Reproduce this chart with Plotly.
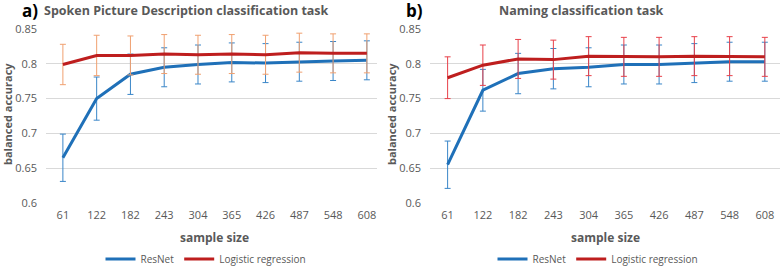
import plotly.graph_objects as go

sample_sizes = ["61", "122", "182", "243", "304", "365", "426", "487", "548", "608"]

# Panel a) Spoken Picture Description
a_resnet = [0.665, 0.750, 0.785, 0.795, 0.799, 0.802, 0.801, 0.803, 0.804, 0.805]
a_resnet_err = [0.034, 0.031, 0.029, 0.028, 0.028, 0.028, 0.028, 0.028, 0.028, 0.028]
a_logreg = [0.799, 0.812, 0.812, 0.814, 0.813, 0.814, 0.813, 0.816, 0.815, 0.815]
a_logreg_err = [0.029, 0.029, 0.028, 0.028, 0.028, 0.028, 0.028, 0.028, 0.028, 0.028]

# Panel b) Naming
b_resnet = [0.655, 0.762, 0.786, 0.793, 0.795, 0.799, 0.799, 0.801, 0.803, 0.803]
b_resnet_err = [0.034, 0.030, 0.029, 0.029, 0.028, 0.028, 0.028, 0.028, 0.028, 0.028]
b_logreg = [0.780, 0.798, 0.807, 0.806, 0.811, 0.810, 0.810, 0.811, 0.811, 0.810]
b_logreg_err = [0.030, 0.029, 0.028, 0.028, 0.028, 0.028, 0.028, 0.028, 0.028, 0.028]

BLUE = "#1F70B8"
RED = "#BE1E1E"
GRAY = "#595959"
FONT = "Open Sans"

fig = go.Figure()

def add(xa, ya, y, err, name, color, ecolor, legend):
    fig.add_trace(go.Scatter(
        x=sample_sizes, y=y, mode="lines", name=name,
        line=dict(color=color, width=3),
        error_y=dict(type="data", array=err, visible=True, color=ecolor,
                     thickness=1, width=3),
        xaxis=xa, yaxis=ya, legend=legend,
    ))

add("x", "y", a_resnet, a_resnet_err, "ResNet", BLUE, "#3A86C8", "legend")
add("x", "y", a_logreg, a_logreg_err, "Logistic regression", RED, "#F0A070", "legend")
add("x2", "y2", b_resnet, b_resnet_err, "ResNet", BLUE, "#3A86C8", "legend2")
add("x2", "y2", b_logreg, b_logreg_err, "Logistic regression", RED, "#E8404A", "legend2")

ydom = [1 - 203 / 267, 1 - 29 / 267]
yax = dict(range=[0.6, 0.85], tickvals=[0.6, 0.65, 0.7, 0.75, 0.8, 0.85],
           ticktext=["0.6", "0.65", "0.7", "0.75", "0.8", "0.85"],
           showgrid=True, gridcolor="#D9D9D9", gridwidth=1, zeroline=False,
           showline=False, ticks="", ticklabelstandoff=8, automargin=False,
           tickfont=dict(family=FONT, size=11, color=GRAY), domain=ydom)
xax = dict(type="category", showgrid=False, zeroline=False, showline=False, ticks="",
           automargin=False,
           tickfont=dict(family=FONT, size=11, color=GRAY), ticklabelstandoff=4)

fig.update_layout(
    width=781, height=267,
    margin=dict(l=0, r=0, t=0, b=0, autoexpand=False),
    paper_bgcolor="white", plot_bgcolor="white",
    font=dict(family=FONT, color=GRAY),
    xaxis=dict(xax, domain=[46 / 781, 377 / 781], range=[-0.5, 9.3], anchor="y"),
    yaxis=dict(yax, anchor="x"),
    xaxis2=dict(xax, domain=[430 / 781, 780 / 781], range=[-0.5, 9.43], anchor="y2"),
    yaxis2=dict(yax, anchor="x2"),
    legend=dict(orientation="h", x=206 / 781, y=1 - 259 / 267, xanchor="center", yanchor="middle",
                font=dict(family=FONT, size=10, color=GRAY), itemwidth=30, bgcolor="rgba(0,0,0,0)"),
    legend2=dict(orientation="h", x=598 / 781, y=1 - 259 / 267, xanchor="center", yanchor="middle",
                 font=dict(family=FONT, size=10, color=GRAY), itemwidth=30, bgcolor="rgba(0,0,0,0)"),
    showlegend=True,
)

ann = [
    dict(text="<b>a)</b>", x=20 / 781, y=1 - 11 / 267, font=dict(size=17, color="#000000")),
    dict(text="<b>Spoken Picture Description classification task</b>", x=42 / 781, y=1 - 11 / 267,
         font=dict(size=12.5, color=GRAY)),
    dict(text="<b>b)</b>", x=404 / 781, y=1 - 11 / 267, font=dict(size=17, color="#000000")),
    dict(text="<b>Naming classification task</b>", x=497 / 781, y=1 - 11 / 267,
         font=dict(size=12.5, color=GRAY)),
]
for a in ann:
    fig.add_annotation(xref="paper", yref="paper", xanchor="left", yanchor="middle",
                       showarrow=False, **a)

for xc in [215, 605]:
    fig.add_annotation(xref="paper", yref="paper", x=xc / 781, y=1 - 237 / 267,
                       text="<b>sample size</b>", showarrow=False, xanchor="center",
                       yanchor="middle", font=dict(size=12, color=GRAY))
for xc in [8, 392]:
    fig.add_annotation(xref="paper", yref="paper", x=xc / 781, y=1 - 114 / 267,
                       text="<b>balanced accuracy</b>", showarrow=False, textangle=-90,
                       xanchor="center", yanchor="middle", font=dict(size=11, color=GRAY))

fig.write_html("out.html",
               config={"displayModeBar": False},
               post_script="document.body.style.margin='0';document.body.style.padding='0';"
                           "document.body.style.overflow='hidden';")
